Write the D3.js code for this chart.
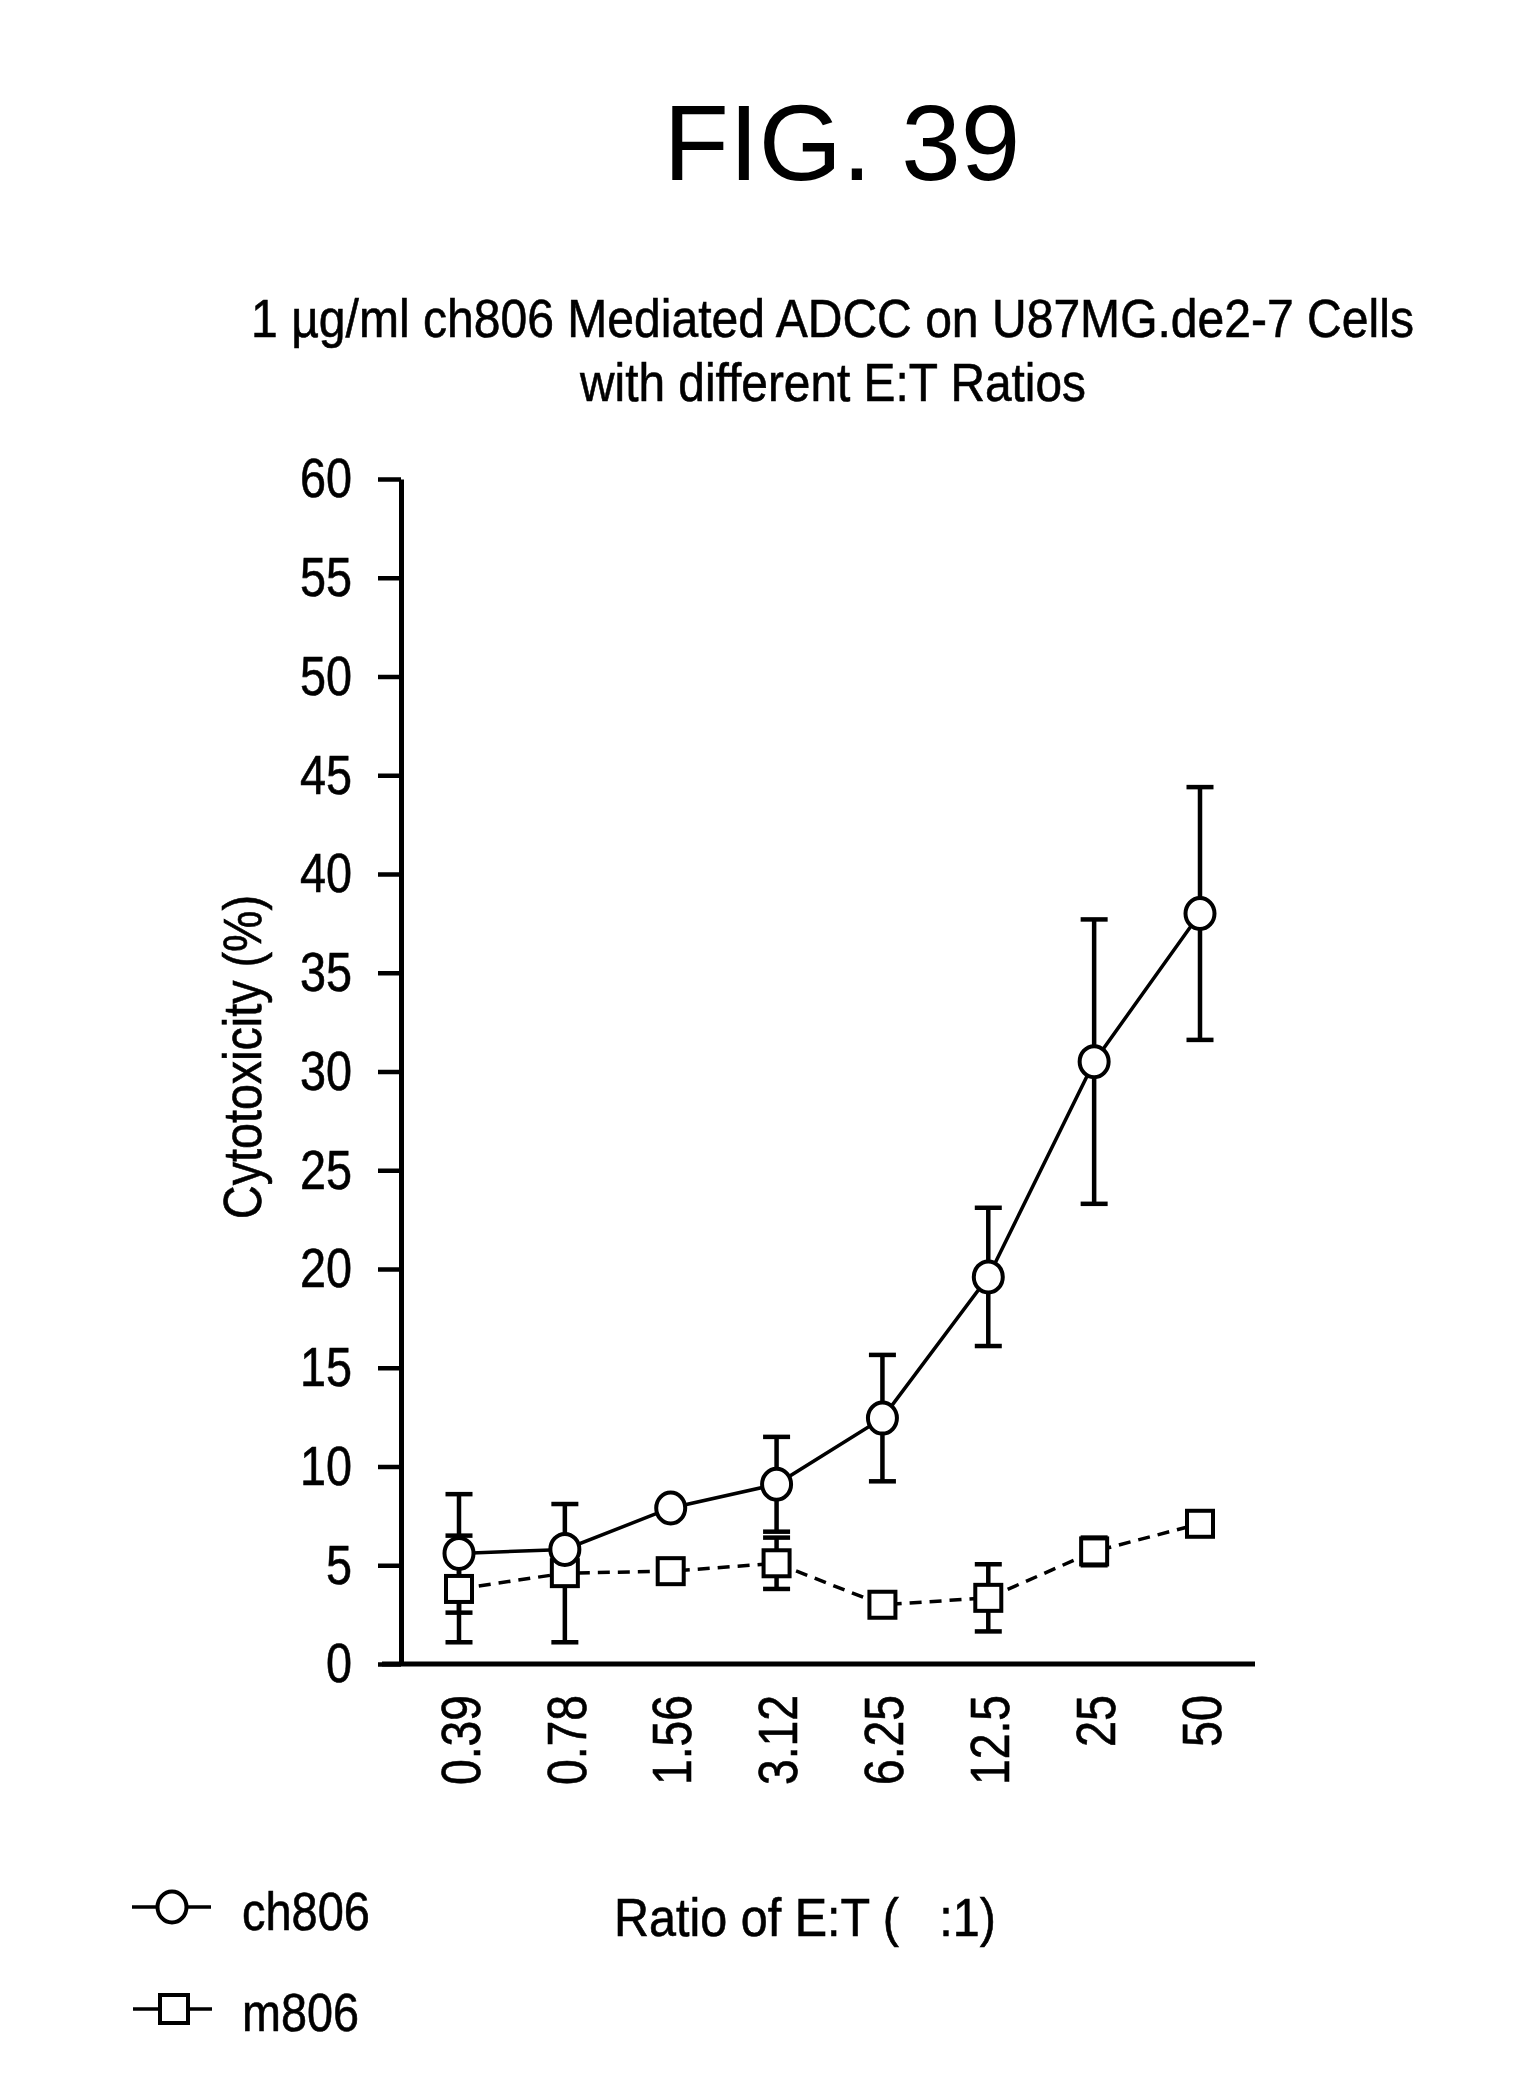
<!DOCTYPE html>
<html>
<head>
<meta charset="utf-8">
<script src="https://cdn.jsdelivr.net/npm/d3@7"></script>
<style>
  html, body { margin: 0; padding: 0; background: #fff; }
  svg { display: block; }
  text { fill: #000; white-space: pre; }
  .heavy { stroke: #000; stroke-width: 0.6px; }
</style>
</head>
<body>
<svg id="chart" width="1514" height="2098"></svg>
<script>
// ---- data ----
const categories = ["0.39", "0.78", "1.56", "3.12", "6.25", "12.5", "25", "50"];
const ch806 = [5.6, 5.8, 7.9, 9.1, 12.45, 19.6, 30.5, 38.0];
const ch806Err = [3.0, 0.3, 0, 2.4, 3.2, 3.5, 7.2, 6.4];
const m806 = [3.8, 4.6, 4.7, 5.1, 3.0, 3.35, 5.7, 7.1];
const m806Err = [2.7, 3.5, 0, 1.3, 0, 1.7, 0.7, 0];
const yTicks = [0, 5, 10, 15, 20, 25, 30, 35, 40, 45, 50, 55, 60];
const seriesNames = ["ch806", "m806"];
const figTitle = "FIG. 39";
const subtitle1 = "1 \u00b5g/ml ch806 Mediated ADCC on U87MG.de2-7 Cells";
const subtitle2 = "with different E:T Ratios";
const yLabel = "Cytotoxicity (%)";
const xLabel = "Ratio of E:T (   :1)";

// ---- layout ----
const NARROW = "'Liberation Sans Narrow', 'Arial Narrow', 'Liberation Sans', Arial, sans-serif";
const REG = "'Liberation Sans', Arial, sans-serif";
const svg = d3.select("#chart");

const x = d3.scalePoint().domain(categories).range([459, 1200]);
const y = d3.scaleLinear().domain([0, 60]).range([1664, 479]);

// width of a numeric label in the narrow lettering of the original
const numWidth = s => Array.from(String(s)).reduce((a, ch) => a + (ch === "." ? 12 : 26), 0);

// Place a text horizontally condensed so that it spans the given width.
// (cx, cy) is the centre of the baseline; rot is an optional rotation.
function fitText(str, cx, cy, width, size, rot) {
  const t = svg.append("text").attr("class", "heavy")
    .attr("text-anchor", "middle")
    .style("font-family", NARROW).style("font-size", size + "px").text(str);
  const natural = t.node().getComputedTextLength();
  const k = Math.min(1, width / natural);
  t.attr("transform", `translate(${cx},${cy})` + (rot ? ` rotate(${rot})` : "") + ` scale(${k},1)`);
  return t;
}

// Title
svg.append("text").attr("x", 842).attr("y", 180)
  .attr("text-anchor", "middle").style("font-family", REG).style("font-size", "107px")
  .text(figTitle);

fitText(subtitle1, 251 + 1163 / 2, 337, 1163, 54);
fitText(subtitle2, 580 + 506 / 2, 401, 506, 54);

// Y axis
const yAxis = d3.axisLeft(y).tickValues(yTicks).tickSize(23).tickSizeOuter(0).tickPadding(26);
const gy = svg.append("g").attr("transform", "translate(401,0)").call(yAxis);
gy.select(".domain").attr("stroke", "#000").attr("stroke-width", 5);
gy.selectAll(".tick line").attr("stroke", "#000").attr("stroke-width", 4.5);
gy.selectAll(".tick text").attr("class", "heavy")
  .attr("textLength", d => numWidth(d)).attr("lengthAdjust", "spacingAndGlyphs")
  .style("font-family", NARROW).style("font-size", "56px").attr("fill", "#000");

// X axis (no ticks)
const xAxis = d3.axisBottom(x).tickSize(0).tickSizeOuter(0).tickFormat(d => d);
const gx = svg.append("g").attr("transform", "translate(0,1664)").call(xAxis);
gx.select(".domain").remove();
gx.selectAll(".tick text").attr("class", "heavy")
  .attr("transform", "rotate(-90)")
  .attr("x", -31).attr("y", 0).attr("dy", "0.36em")
  .attr("text-anchor", "end")
  .attr("textLength", d => numWidth(d)).attr("lengthAdjust", "spacingAndGlyphs")
  .style("font-family", NARROW).style("font-size", "56px").attr("fill", "#000");
svg.append("line").attr("x1", 382).attr("x2", 1255).attr("y1", 1664).attr("y2", 1664)
  .attr("stroke", "#000").attr("stroke-width", 5);

// Axis titles
fitText(yLabel, 261, 1057, 324, 54, -90);
fitText(xLabel, 614 + 382 / 2, 1936, 382, 54);

// ---- marks ----
const ch = categories.map((c, i) => ({ c, v: ch806[i], e: ch806Err[i] }));
const m = categories.map((c, i) => ({ c, v: m806[i], e: m806Err[i] }));
const line = d3.line().x(d => x(d.c)).y(d => y(d.v));

const capW = 13.5;
function errorBars(data) {
  const g = svg.append("g").attr("stroke", "#000").attr("stroke-width", 4.5).attr("fill", "none");
  data.filter(d => d.e > 0).forEach(d => {
    g.append("line").attr("x1", x(d.c)).attr("x2", x(d.c)).attr("y1", y(d.v - d.e)).attr("y2", y(d.v + d.e));
    g.append("line").attr("x1", x(d.c) - capW).attr("x2", x(d.c) + capW).attr("y1", y(d.v + d.e)).attr("y2", y(d.v + d.e));
    g.append("line").attr("x1", x(d.c) - capW).attr("x2", x(d.c) + capW).attr("y1", y(d.v - d.e)).attr("y2", y(d.v - d.e));
  });
}
errorBars(ch);
errorBars(m);

svg.append("path").datum(m).attr("d", line).attr("fill", "none")
  .attr("stroke", "#000").attr("stroke-width", 3.5).attr("stroke-dasharray", "12,8");
svg.append("path").datum(ch).attr("d", line).attr("fill", "none")
  .attr("stroke", "#000").attr("stroke-width", 3.5);

const sq = 26;
svg.append("g").selectAll("rect").data(m).join("rect")
  .attr("x", d => x(d.c) - sq / 2).attr("y", d => y(d.v) - sq / 2)
  .attr("width", sq).attr("height", sq)
  .attr("fill", "#fff").attr("stroke", "#000").attr("stroke-width", 4);
svg.append("g").selectAll("ellipse").data(ch).join("ellipse")
  .attr("cx", d => x(d.c)).attr("cy", d => y(d.v)).attr("rx", 14.5).attr("ry", 15.5)
  .attr("fill", "#fff").attr("stroke", "#000").attr("stroke-width", 4);

// ---- legend ----
const lg = svg.append("g");
lg.append("line").attr("x1", 132).attr("x2", 211).attr("y1", 1907).attr("y2", 1907).attr("stroke", "#000").attr("stroke-width", 3.5);
lg.append("ellipse").attr("cx", 172).attr("cy", 1907).attr("rx", 14.5).attr("ry", 15.5)
  .attr("fill", "#fff").attr("stroke", "#000").attr("stroke-width", 4);
lg.append("line").attr("x1", 133).attr("x2", 212).attr("y1", 2009).attr("y2", 2009).attr("stroke", "#000").attr("stroke-width", 3.5);
lg.append("rect").attr("x", 160).attr("y", 1995).attr("width", 28).attr("height", 28)
  .attr("fill", "#fff").attr("stroke", "#000").attr("stroke-width", 4);
fitText(seriesNames[0], 242 + 128 / 2, 1930, 128, 54);
fitText(seriesNames[1], 242 + 117 / 2, 2031, 117, 54);
</script>
</body>
</html>
